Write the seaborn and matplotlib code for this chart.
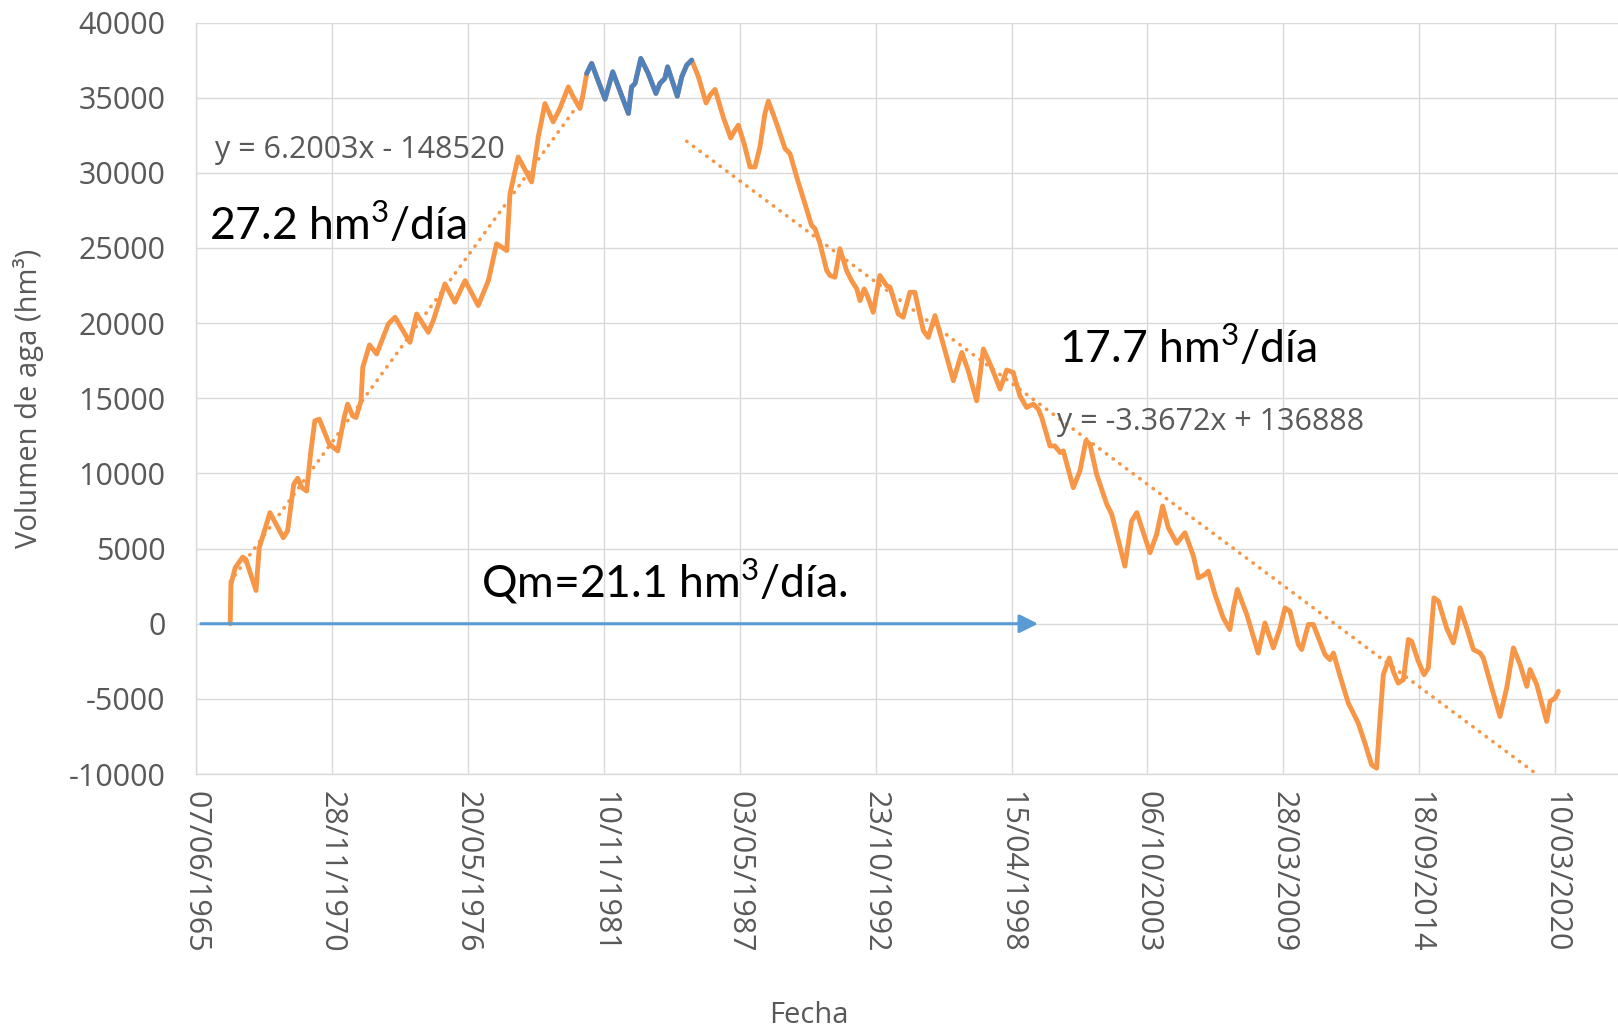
import numpy as np
import pandas as pd
import matplotlib.pyplot as plt
import matplotlib.dates as mdates
import seaborn as sns

# fecha en años decimales y volumen acumulado (hm3)
anio = [
    1966.81, 1966.84, 1967.01, 1967.31, 1967.44, 1967.85, 1967.98, 1968.41, 1968.95, 1969.12,
    1969.37, 1969.53, 1969.70, 1969.89, 1970.06, 1970.22, 1970.40, 1970.80, 1971.14, 1971.40,
    1971.54, 1971.74, 1971.88, 1972.08, 1972.15, 1972.42, 1972.71, 1973.18, 1973.45, 1974.05,
    1974.32, 1974.79, 1974.99, 1975.46, 1975.86, 1976.27, 1976.80, 1977.21, 1977.54, 1977.95,
    1978.08, 1978.41, 1978.95, 1979.22, 1979.49, 1979.82, 1980.09, 1980.43, 1980.63, 1980.90,
    1981.03, 1981.17, 1981.37, 1981.91, 1982.22, 1982.85, 1982.98, 1983.12, 1983.35, 1983.65,
    1983.96, 1984.12, 1984.32, 1984.43, 1984.82, 1985.00, 1985.20, 1985.40, 1985.67, 1985.98,
    1986.14, 1986.34, 1986.67, 1986.97, 1987.14, 1987.28, 1987.51, 1987.75, 1987.95, 1988.15,
    1988.35, 1988.49, 1988.82, 1989.16, 1989.36, 1989.63, 1989.96, 1990.23, 1990.37, 1990.57,
    1990.84, 1990.97, 1991.17, 1991.37, 1991.64, 1991.84, 1992.05, 1992.18, 1992.35, 1992.50,
    1992.71, 1992.98, 1993.25, 1993.39, 1993.72, 1993.92, 1994.19, 1994.39, 1994.73, 1994.93,
    1995.20, 1995.53, 1995.94, 1996.28, 1996.54, 1996.88, 1997.15, 1997.48, 1997.82, 1998.09,
    1998.35, 1998.62, 1998.89, 1999.16, 1999.36, 1999.50, 1999.83, 2000.03, 2000.24, 2000.37,
    2000.77, 2001.04, 2001.28, 2001.44, 2001.71, 2002.12, 2002.32, 2002.85, 2003.12, 2003.33,
    2003.86, 2004.13, 2004.37, 2004.60, 2004.94, 2005.27, 2005.61, 2005.81, 2006.08, 2006.21,
    2006.48, 2006.81, 2007.08, 2007.22, 2007.38, 2007.76, 2008.22, 2008.49, 2008.83, 2009.10,
    2009.30, 2009.50, 2009.84, 2009.97, 2010.24, 2010.44, 2010.91, 2011.11, 2011.25, 2011.58,
    2011.85, 2012.25, 2012.52, 2012.79, 2012.99, 2013.13, 2013.26, 2013.50, 2013.66, 2013.86,
    2014.07, 2014.27, 2014.40, 2014.67, 2014.90, 2015.07, 2015.30, 2015.48, 2015.81, 2016.08,
    2016.22, 2016.35, 2016.62, 2016.89, 2017.16, 2017.29, 2017.63, 2017.96, 2018.23, 2018.50,
    2018.77, 2019.04, 2019.17, 2019.44, 2019.84, 2019.98, 2020.18, 2020.31,
]
volumen = [
    0, 2610, 3720, 4430, 4280, 2210, 5050, 7390, 5720, 6170,
    9280, 9680, 9050, 8830, 11500, 13500, 13610, 11950, 11500, 13720,
    14610, 13830, 13720, 14830, 17050, 18550, 17950, 19950, 20390, 18720,
    20610, 19390, 20170, 22610, 21390, 22830, 21170, 22830, 25280, 24830,
    28610, 31050, 29390, 32390, 34610, 33390, 34280, 35720, 35050, 34280,
    35280, 36610, 37280, 34900, 36720, 33950, 35720, 35950, 37610, 36610,
    35280, 35950, 36280, 37050, 35100, 36390, 37170, 37500, 36390, 34650,
    35170, 35550, 33720, 32320, 32830, 33170, 31950, 30390, 30390, 31720,
    33950, 34770, 33280, 31610, 31280, 29720, 27950, 26500, 26280, 25280,
    23500, 23170, 23050, 24950, 23500, 22830, 22280, 21500, 22280, 21720,
    20720, 23170, 22500, 22390, 20610, 20390, 22050, 22050, 19500, 19050,
    20500, 18610, 16170, 18050, 16830, 14830, 18280, 17050, 15610, 16880,
    16720, 15170, 14390, 14610, 14280, 13720, 11830, 11830, 11390, 11500,
    9050, 10170, 12170, 11950, 9950, 7950, 7280, 3830, 6830, 7390,
    4720, 5950, 7830, 6390, 5350, 6050, 4500, 3050, 3280, 3500,
    1950, 390, -390, 1050, 2280, 610, -1950, 50, -1610, -280,
    1050, 830, -1390, -1720, -50, -50, -2050, -2390, -1950, -3830,
    -5280, -6610, -7950, -9390, -9610, -6280, -3390, -2280, -3170, -3950,
    -3720, -1050, -1170, -2500, -3390, -2950, 1720, 1500, -280, -1280,
    -280, 1050, -280, -1720, -1950, -2280, -4280, -6170, -4280, -1610,
    -2720, -4170, -3050, -4050, -6500, -5170, -4950, -4500,
]

# tramo resaltado en azul (meseta)
periodo_azul = (1981.17, 1985.40)

# líneas de tendencia (x = fecha serie Excel)
tendencias = [
    {'tramo': (1966.81, 1981.10), 'm': 6.2003, 'b': -148520},
    {'tramo': (1985.20, 2020.31), 'm': -3.3672, 'b': 136888},
]

# flecha del caudal medio
flecha = (1965.63, 1999.35)

naranja = '#F79646'
azul = '#4F81BD'
azul_flecha = '#5B9BD5'
gris = '#595959'


def a_fecha(a):
    a = np.asarray(a, dtype=float)
    return pd.Timestamp('1965-01-01') + pd.to_timedelta((a - 1965) * 365.25, unit='D')


def serie_excel(f):
    return (f - pd.Timestamp('1899-12-30')) / pd.Timedelta(days=1)


df = pd.DataFrame({'fecha': a_fecha(anio), 'vol': volumen, 'anio': anio})

sns.set_style('whitegrid')
plt.rcParams['font.family'] = ['Open Sans', 'DejaVu Sans']
plt.rcParams['axes.unicode_minus'] = False
plt.rcParams['mathtext.fontset'] = 'custom'
plt.rcParams['mathtext.rm'] = 'Lato'

fig = plt.figure(figsize=(16.18, 10.29), dpi=100)
ax = fig.add_axes([0.1211, 0.2478, 0.8789, 0.7303])

sns.lineplot(data=df, x='fecha', y='vol', color=naranja, lw=3.5, ax=ax)
azul_df = df[(df.anio >= periodo_azul[0]) & (df.anio <= periodo_azul[1])]
sns.lineplot(data=azul_df, x='fecha', y='vol', color=azul, lw=3.5, ax=ax)

for t in tendencias:
    f = a_fecha(t['tramo'])
    y = t['m'] * serie_excel(f) + t['b']
    sns.lineplot(x=f, y=y, color=naranja, lw=2.6, linestyle=(0, (0.1, 2.2)),
                 dash_capstyle='round', ax=ax)

ax.annotate('', xy=(a_fecha([flecha[1]])[0], 0), xytext=(a_fecha([flecha[0]])[0], 0),
            arrowprops=dict(arrowstyle='-|>', color=azul_flecha, lw=2.2,
                            mutation_scale=28, shrinkA=0, shrinkB=0))

ax.set_xlim(pd.Timestamp('1965-06-07'), pd.Timestamp('2022-09-19'))
ax.set_ylim(-10000, 40000)
ax.set_yticks(range(-10000, 40001, 5000))
ax.set_xticks(pd.date_range('1965-06-07', periods=11, freq='2000D'))
ax.xaxis.set_major_formatter(mdates.DateFormatter('%d/%m/%Y'))
ax.tick_params(axis='x', labelrotation=-90, labelsize=22, labelcolor=gris, pad=12, length=0)
ax.tick_params(axis='y', labelsize=22, labelcolor=gris, pad=22, length=0)
ax.grid(True, color='#D9D9D9', lw=1.0)
for s in ['top', 'right']:
    ax.spines[s].set_visible(False)
for s in ['left', 'bottom']:
    ax.spines[s].set_color('#D9D9D9')
    ax.spines[s].set_linewidth(1.0)

ax.set_xlabel('Fecha', fontsize=21, color=gris, va='center')
ax.set_ylabel('Volumen de aga (hm³)', fontsize=21, color=gris, va='center')
ax.xaxis.set_label_coords(0.431, -0.322)
ax.yaxis.set_label_coords(-0.118, 0.5)

grande = dict(fontsize=32, color='black', family=['Lato', 'DejaVu Sans'], va='center')
ecuacion = dict(fontsize=22, color=gris, va='center')
ax.text(a_fecha([1965.95])[0], 26500, '27.2 hm$^3$/día', **grande)
ax.text(a_fecha([2000.19])[0], 18300, '17.7 hm$^3$/día', **grande)
ax.text(a_fecha([1976.91])[0], 2830, 'Qm=21.1 hm$^3$/día.', **grande)
ax.text(a_fecha([1966.20])[0], 31500, 'y = 6.2003x - 148520', **ecuacion)
ax.text(a_fecha([2000.11])[0], 13430, 'y = -3.3672x + 136888', **ecuacion)

fig.savefig('out.png', dpi=100)
